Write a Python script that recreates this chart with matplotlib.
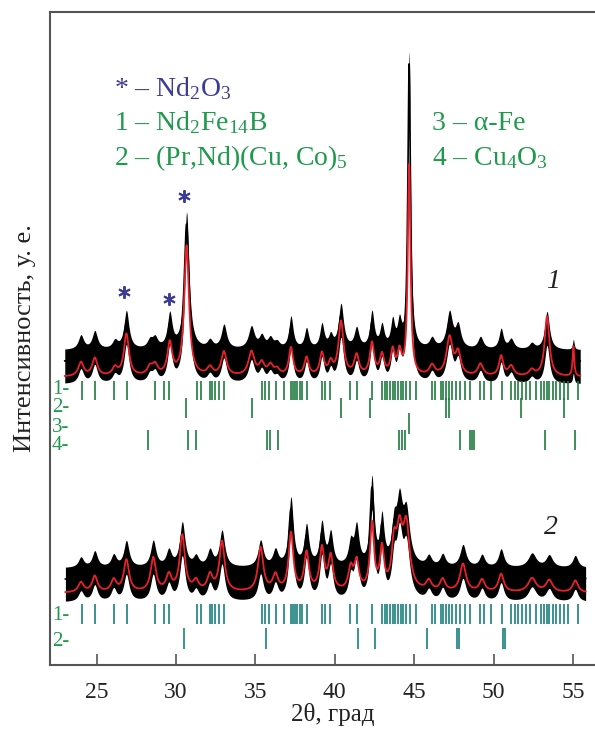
import numpy as np
import matplotlib.pyplot as plt

plt.rcParams['font.family'] = ['Liberation Serif', 'DejaVu Serif']
plt.rcParams['mathtext.fontset'] = 'custom'
plt.rcParams['mathtext.rm'] = 'Liberation Serif'
plt.rcParams['mathtext.it'] = 'Liberation Serif:italic'

# --- pattern 1: peaks (2theta, calc height, obs height, FWHM) ---
pos1 = [24.02, 24.89, 26.16, 26.88, 28.36, 28.68, 29.61, 30.67, 32.14, 33.02,
        34.75, 35.40, 35.94, 36.36, 37.24, 38.22, 39.19, 39.74, 40.39, 41.37,
        42.34, 42.97, 43.64, 44.07, 44.68, 46.12, 47.22, 47.76, 49.17, 50.47,
        51.10, 52.40, 53.36, 55.02]
calc1 = [14, 18, 8, 42, 8, 10, 32, 130, 8, 24,
         24, 12, 10, 6, 28, 18, 22, 12, 54, 20,
         32, 20, 24, 22, 210, 10, 38, 22, 12, 20,
         10, 6, 60, 30]
obs1 = [14, 18, 8, 38, 8, 10, 34, 136, 8, 24,
        22, 12, 10, 6, 32, 20, 24, 12, 44, 20,
        36, 22, 26, 24, 295, 10, 36, 22, 12, 20,
        10, 6, 38, 10]
wid1 = [0.4, 0.4, 0.4, 0.38, 0.4, 0.4, 0.36, 0.36, 0.4, 0.4,
        0.45, 0.4, 0.4, 0.4, 0.32, 0.32, 0.32, 0.32, 0.38, 0.36,
        0.32, 0.32, 0.3, 0.3, 0.2, 0.4, 0.45, 0.4, 0.4, 0.32,
        0.4, 0.4, 0.36, 0.12]
range1 = (23.0, 55.45)
base1_calc, base1_obs = 288, 298

# --- pattern 2 ---
pos2 = [24.02, 24.89, 26.08, 26.88, 28.57, 29.55, 30.40, 31.26, 32.14, 32.90,
        35.33, 36.26, 37.24, 38.22, 39.19, 39.74, 41.00, 41.37, 42.34, 42.97,
        43.73, 44.07, 44.50, 45.92, 46.79, 48.07, 49.27, 50.47, 52.42, 53.50,
        55.14]
calc2 = [10, 16, 12, 32, 34, 16, 56, 10, 16, 50,
         44, 16, 58, 38, 42, 34, 22, 28, 66, 40,
         40, 52, 62, 10, 12, 28, 12, 18, 14, 12,
         12]
obs2 = [10, 16, 12, 26, 26, 16, 44, 10, 16, 36,
        26, 16, 68, 40, 42, 32, 22, 38, 86, 46,
        34, 58, 50, 10, 12, 22, 12, 18, 14, 12,
        12]
wid2 = [0.4, 0.4, 0.4, 0.4, 0.4, 0.4, 0.4, 0.4, 0.4, 0.4,
        0.4, 0.4, 0.35, 0.35, 0.35, 0.35, 0.35, 0.35, 0.3, 0.3,
        0.35, 0.45, 0.5, 0.4, 0.4, 0.45, 0.4, 0.4, 0.6, 0.5,
        0.4]
range2 = (23.04, 55.79)
base2_calc, base2_obs = 72, 80

# --- Bragg positions ---
bragg_nd2fe14b = [24.06, 24.88, 26.12, 26.90, 28.66, 29.22, 29.55, 31.35, 31.56, 32.15,
                  32.26, 32.43, 32.69, 33.02, 35.40, 35.62, 35.83, 36.27, 36.81, 37.24,
                  37.35, 37.50, 37.63, 37.79, 37.94, 38.22, 39.19, 39.41, 39.67, 40.93,
                  41.41, 42.34, 42.99, 43.14, 43.31, 43.49, 43.64, 43.79, 43.97, 44.14,
                  44.29, 44.51, 44.72, 45.09, 46.13, 46.31, 46.68, 46.83, 47.00, 47.17,
                  47.35, 47.65, 47.91, 48.19, 48.52, 49.17, 49.39, 49.82, 50.54, 51.12,
                  51.34, 51.51, 51.77, 52.03, 52.31, 52.64, 52.96, 53.14, 53.33, 53.51,
                  53.72, 53.94, 54.16, 54.42, 54.70, 55.28]
bragg_prnd_1 = [30.63, 34.79, 40.39, 42.23, 47.00, 47.20, 51.73, 54.42]
bragg_fe = [44.70]
bragg_cu4o3 = [28.25, 30.74, 31.28, 35.73, 35.90, 36.42, 44.07, 44.23, 44.40, 47.91,
               48.48, 48.63, 48.78, 53.22, 55.13]
bragg_prnd_2 = [30.52, 35.68, 41.47, 42.56, 45.81, 47.70, 47.82, 50.58, 50.73]

legend_lines = [r'* – Nd$_2$O$_3$', r'1 – Nd$_2$Fe$_{14}$B', r'2 – (Pr,Nd)(Cu, Co)$_5$']
legend_right = [r'3 – α-Fe', r'4 – Cu$_4$O$_3$']
star_pos = [26.73, 29.55, 30.52]
star_h = [373, 366, 469]

blue = '#3b3b98'
green = '#1e9a4c'
bar1 = '#1f7a3f'
bar2 = '#17807f'


def profile(x, pos, amp, wid, base):
    y = np.full_like(x, float(base))
    for p, a, w in zip(pos, amp, wid):
        y += a / (1 + ((x - p) / (w / 2)) ** 2)
    return y


fig = plt.figure(figsize=(5.95, 7.30), dpi=100)
ax = fig.add_axes([50 / 595, 65 / 730, 545 / 595, 653 / 730])
ax.set_xlim(22.07, 56.38)
ax.set_ylim(0, 653)

hw = 17
for rng, pos, calc, obs, wid, bc, bo in [
        (range1, pos1, calc1, obs1, wid1, base1_calc, base1_obs),
        (range2, pos2, calc2, obs2, wid2, base2_calc, base2_obs)]:
    x = np.linspace(rng[0], rng[1], 4000)
    yo = profile(x, pos, obs, wid, bo)
    yc = profile(x, pos, calc, wid, bc)
    ax.fill_between(x, yo - hw, yo + hw, color='black', lw=0)
    ax.plot(x, yo + hw * 0.3, color='black', lw=1.2)
    ax.plot(x, yc, color='#e8202a', lw=1.3)

# Bragg tick rows
rows = [(bragg_nd2fe14b, 265, 284, bar1), (bragg_prnd_1, 247, 267, bar1),
        (bragg_fe, 231, 252, bar1), (bragg_cu4o3, 215, 235, bar1),
        (bragg_nd2fe14b, 41, 61, bar2), (bragg_prnd_2, 16, 37, bar2)]
for xs, y0, y1, c in rows:
    ax.vlines(xs, y0, y1, color=c, lw=1.4, alpha=0.85)

for lab, h in [('1-', 276), ('2-', 257), ('3-', 238), ('4-', 219), ('1-', 49), ('2-', 23)]:
    ax.text(22.2, h, lab, color=green, fontsize=15, ha='left', va='center')

ax.plot(star_pos, star_h, ls='none', marker=(6, 2, 0), ms=9, mew=1.4, color=blue)

ax.text(26.08, 569, legend_lines[0], color=blue, fontsize=20, va='baseline')
ax.text(26.08, 535, legend_lines[1], color=green, fontsize=20, va='baseline')
ax.text(26.08, 500, legend_lines[2], color=green, fontsize=20, va='baseline')
ax.text(46.09, 535, legend_right[0], color=green, fontsize=20, va='baseline')
ax.text(46.09, 500, legend_right[1], color=green, fontsize=20, va='baseline')

ax.text(53.72, 383, '1', fontsize=20, style='italic', color='#222222', ha='center', va='center')
ax.text(53.62, 137, '2', fontsize=20, style='italic', color='#222222', ha='center', va='center')

for s in ['left', 'top', 'bottom']:
    ax.spines[s].set_color('#555555')
    ax.spines[s].set_linewidth(1.5)
ax.spines['right'].set_visible(False)
ax.set_yticks([])
ax.set_xticks([25, 30, 35, 40, 45, 50, 55])
ax.tick_params(axis='x', direction='in', length=8, width=1.2, color='#555555',
               labelsize=17, pad=12, labelcolor='#222222')

fig.text(333 / 595, 15 / 730, '2θ, град', fontsize=18, ha='center', va='center', color='#222222')
fig.text(25 / 595, 392 / 730, 'Интенсивность, у. е.', fontsize=19, rotation=90,
         ha='center', va='center', color='#222222')

fig.savefig('out.png', dpi=100)
